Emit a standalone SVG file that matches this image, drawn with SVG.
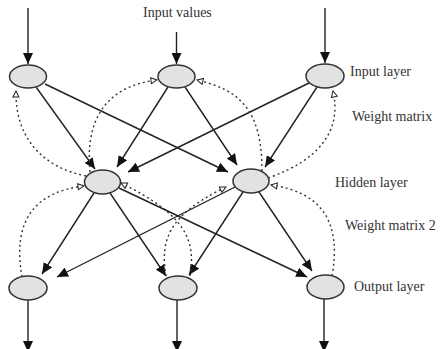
<svg xmlns="http://www.w3.org/2000/svg" width="444" height="349" viewBox="0 0 444 349">
<defs>
<marker id="ah" markerUnits="userSpaceOnUse" markerWidth="11" markerHeight="10" refX="11" refY="5" orient="auto">
<path d="M0,0 L11,5 L0,10 z" fill="#111"/>
</marker>
<marker id="oh" markerUnits="userSpaceOnUse" markerWidth="9" markerHeight="8" refX="7" refY="4" orient="auto">
<path d="M1,1 L7,4 L1,7 z" fill="#fff" stroke="#222" stroke-width="1"/>
</marker>
</defs>
<style>
.n{fill:#e2e2e2;stroke:#333;stroke-width:1.5}
.c{fill:none;stroke:#222;stroke-width:1.4;marker-end:url(#ah)}
.d{fill:none;stroke:#333;stroke-width:1.4;stroke-dasharray:2 3;marker-end:url(#oh)}
.t{font-family:"Liberation Serif","Times New Roman",serif;font-size:14px;fill:#333}
</style>
<rect width="444" height="349" fill="#fff"/>
<g id="connectors">
<path class="c" d="M28 8 L28 64"/>
<path class="c" d="M176.5 32 L176.5 64"/>
<path class="c" d="M325 8 L325 63"/>
<path class="c" d="M36 87 L95 169"/>
<path class="c" d="M45 84 L228 172"/>
<path class="c" d="M168 87 L117 167"/>
<path class="c" d="M185 87 L237 165"/>
<path class="c" d="M309 83 L128 172"/>
<path class="c" d="M317 87 L265 167"/>
<path class="c" d="M94 193 L42 274"/>
<path class="c" d="M110 193 L166 276"/>
<path class="c" d="M119 188 L307 277"/>
<path class="c" d="M235 187 L57 277"/>
<path class="c" d="M243 192 L189 275"/>
<path class="c" d="M259 192 L312 271"/>
<path class="c" d="M28 300 L28 352"/>
<path class="c" d="M177 300 L177 352"/>
<path class="c" d="M324 299 L324 352"/>
<path class="d" d="M86 176 C45 168 15 140 16 91"/>
<path class="d" d="M90 172 C84 110 115 85 157 80"/>
<path class="d" d="M262 171 C262 110 240 90 197 80"/>
<path class="d" d="M268 178 C320 160 342 130 333 91"/>
<path class="d" d="M22 277 C12 220 35 192 84 186"/>
<path class="d" d="M166 276 C160 240 168 215 226 187"/>
<path class="d" d="M190 276 C196 240 186 215 121 183"/>
<path class="d" d="M332 276 C342 220 320 192 271 185"/>
</g>
<g id="in1"><ellipse class="n" cx="28" cy="76.5" rx="18.5" ry="11.5"/></g>
<g id="in2"><ellipse class="n" cx="176.5" cy="76.5" rx="18.5" ry="11.5"/></g>
<g id="in3"><ellipse class="n" cx="325" cy="76" rx="19" ry="12"/></g>
<g id="hid1"><ellipse class="n" cx="102.5" cy="182" rx="18" ry="12"/></g>
<g id="hid2"><ellipse class="n" cx="251" cy="181" rx="18" ry="12"/></g>
<g id="out1"><ellipse class="n" cx="28" cy="288" rx="19" ry="12"/></g>
<g id="out2"><ellipse class="n" cx="178" cy="288" rx="19" ry="12"/></g>
<g id="out3"><ellipse class="n" cx="325.5" cy="287" rx="18.5" ry="12"/></g>
<g id="labels">
<text class="t" x="143" y="17">Input values</text>
<text class="t" x="350" y="76">Input layer</text>
<text class="t" x="352" y="121">Weight matrix</text>
<text class="t" x="335" y="187">Hidden layer</text>
<text class="t" x="345" y="230">Weight matrix 2</text>
<text class="t" x="354" y="291">Output layer</text>
</g>
</svg>
